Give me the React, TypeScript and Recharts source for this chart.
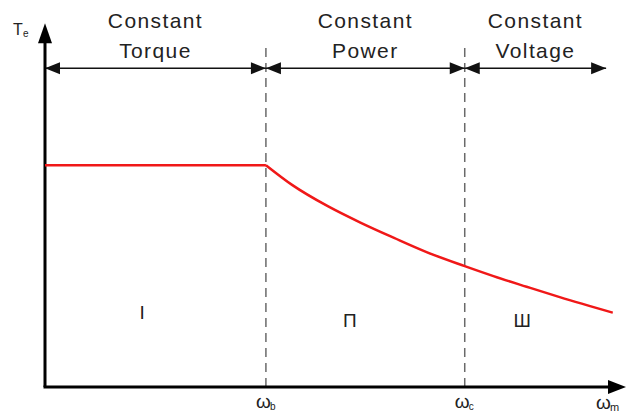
import { LineChart, Line, XAxis, YAxis, ReferenceLine, ReferenceDot } from 'recharts';

// speed (ωb = 1) and torque (rated = 1)
const omega = [0, 1, 1.12, 1.28, 1.43, 1.58, 1.73, 1.9, 2.03, 2.18, 2.33, 2.57];
const torque = [1, 1, 0.91, 0.815, 0.74, 0.672, 0.607, 0.545, 0.5, 0.452, 0.405, 0.335];

const bounds = [0, 1, 1.9, 2.54];
const headerTop = ['Constant', 'Constant', 'Constant'];
const headerBottom = ['Torque', 'Power', 'Voltage'];
const regionMarks = ['I', 'П', 'Ш'];
const regionX = [0.44, 1.38, 2.16];
const regionY = [0.34, 0.3, 0.3];
const cornerLabels = [
  { x: 1, main: 'ω', sub: 'b' },
  { x: 1.9, main: 'ω', sub: 'c' },
];

// flat part and weakening part as two pieces so the corner at ωb stays sharp
const rows = omega.map((w, i) => ({
  w,
  flat: w <= 1 ? torque[i] : null,
  weak: w >= 1 ? torque[i] : null,
}));

const FONT = '"Liberation Sans", Arial, sans-serif';
const INK = '#222';
const RED = '#f01818';

function head(x: number, y: number, dir: number) {
  return `${x},${y} ${x - dir * 15},${y - 6} ${x - dir * 15},${y + 6}`;
}

function HeaderArrow(p: any, i: number) {
  const { x1, y1, x2 } = p;
  const cx = (x1 + x2) / 2;
  return (
    <g>
      <line x1={x1} y1={y1} x2={x2} y2={y1} stroke="#111" strokeWidth={1.5} />
      <polygon points={head(x1, y1, -1)} fill="#111" />
      <polygon points={head(x2, y1, 1)} fill="#111" />
      <text x={cx} y={y1 - 40} textAnchor="middle" fontSize={21} letterSpacing={1.4} fill={INK} fontFamily={FONT}>
        {headerTop[i]}
      </text>
      <text x={cx} y={y1 - 10} textAnchor="middle" fontSize={21} letterSpacing={1.4} fill={INK} fontFamily={FONT}>
        {headerBottom[i]}
      </text>
    </g>
  );
}

function YArrow(p: any) {
  const { x1, y1, y2 } = p;
  const top = Math.min(y1, y2);
  const bot = Math.max(y1, y2);
  return (
    <g>
      <line x1={x1} y1={bot} x2={x1} y2={top + 15} stroke="#000" strokeWidth={3} />
      <polygon points={`${x1},${top} ${x1 - 7},${top + 20} ${x1 + 7},${top + 20}`} fill="#000" />
      <text x={x1 - 32} y={top + 12} fontSize={16} fill={INK} fontFamily={FONT}>T</text>
      <text x={x1 - 22} y={top + 14} fontSize={10} fill={INK} fontFamily={FONT}>e</text>
    </g>
  );
}

function XArrow(p: any) {
  const { x1, y1, x2 } = p;
  return (
    <g>
      <line x1={x1 - 1.5} y1={y1} x2={x2 - 12} y2={y1} stroke="#000" strokeWidth={3} />
      <polygon points={`${x2},${y1} ${x2 - 18},${y1 - 7} ${x2 - 18},${y1 + 7}`} fill="#000" />
      <text x={x2 - 30} y={y1 + 22} fontSize={19} fill={INK} fontFamily={FONT}>ω</text>
      <text x={x2 - 16} y={y1 + 24} fontSize={11} fill={INK} fontFamily={FONT}>m</text>
    </g>
  );
}

function DashLine(p: any, i: number) {
  const { x1, y1, y2 } = p;
  const bot = Math.max(y1, y2);
  const c = cornerLabels[i];
  return (
    <g>
      <line x1={x1} y1={y1} x2={x1} y2={y2} stroke="#6a6a6a" strokeWidth={1.5} strokeDasharray="9 6" />
      <text x={x1 - 10} y={bot + 21} fontSize={19} fill={INK} fontFamily={FONT}>{c.main}</text>
      <text x={x1 + 4} y={bot + 23} fontSize={10} fill={INK} fontFamily={FONT}>{c.sub}</text>
    </g>
  );
}

export default function App() {
  return (
    <div style={{ position: 'absolute', left: 0, top: 0, width: 631, height: 415, background: '#fff' }}>
      <LineChart width={631} height={415} data={rows} margin={{ top: 21, right: 5, left: 45, bottom: 28 }}>
        <XAxis type="number" dataKey="w" domain={[0, 2.63]} hide allowDataOverflow />
        <YAxis type="number" domain={[0, 1.65]} hide allowDataOverflow />
        {cornerLabels.map((c, i) => (
          <ReferenceLine
            key={'d' + i}
            segment={[{ x: c.x, y: 0 }, { x: c.x, y: 1.55 }]}
            ifOverflow="visible"
            shape={(p: any) => DashLine(p, i)}
          />
        ))}
        {headerTop.map((_, i) => (
          <ReferenceLine
            key={'h' + i}
            segment={[{ x: bounds[i], y: 1.437 }, { x: bounds[i + 1], y: 1.437 }]}
            ifOverflow="visible"
            shape={(p: any) => HeaderArrow(p, i)}
          />
        ))}
        {regionMarks.map((m, i) => (
          <ReferenceDot
            key={'r' + i}
            x={regionX[i]}
            y={regionY[i]}
            r={0}
            ifOverflow="visible"
            shape={(p: any) => (
              <text x={p.cx} y={p.cy + 7} textAnchor="middle" fontSize={19} fill={INK} fontFamily={FONT}>
                {m}
              </text>
            )}
          />
        ))}
        <ReferenceLine segment={[{ x: 0, y: 0 }, { x: 0, y: 1.64 }]} ifOverflow="visible" shape={YArrow} />
        <ReferenceLine segment={[{ x: 0, y: 0 }, { x: 2.63, y: 0 }]} ifOverflow="visible" shape={XArrow} />
        <Line type="linear" dataKey="flat" stroke={RED} strokeWidth={2.5} dot={false} isAnimationActive={false} />
        <Line type="monotone" dataKey="weak" stroke={RED} strokeWidth={2.5} dot={false} isAnimationActive={false} />
      </LineChart>
    </div>
  );
}
